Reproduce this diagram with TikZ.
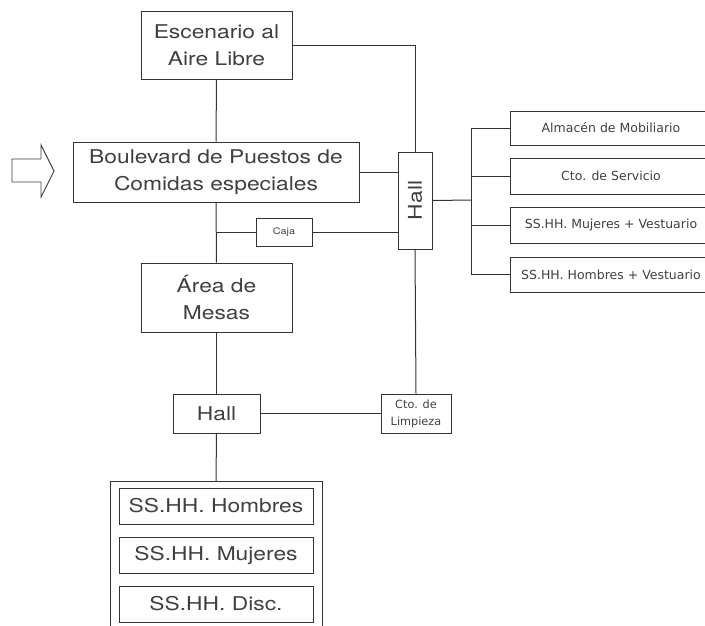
\documentclass[tikz,border=0pt]{standalone}
\usepackage{fontspec}
\setmainfont{TeX Gyre Heros}
\newfontfamily\bigf[FakeStretch=1.2]{TeX Gyre Heros}
\newfontfamily\smf{DejaVu Sans}
\tikzset{
  box/.style={draw=black!80, line width=1pt, rectangle, inner sep=0pt, align=center, text=black!75},
  bigtxt/.style={font=\bigf\fontsize{19}{27}\selectfont},
  smtxt/.style={font=\smf\fontsize{12.5}{17}\selectfont},
  link/.style={draw=black!80, line width=1pt},
}
\begin{document}
\begin{tikzpicture}[x=1pt,y=-1pt]
\clip (0,0) rectangle (705,625);
\fill[white] (0,0) rectangle (705,625);
% arrow
\draw[black!75, line width=0.9pt, line join=miter] (12,159) -- (41,159) -- (41,145) -- (54,171) -- (41,197) -- (41,182) -- (12,182) -- cycle;
% nodes
\node[box, bigtxt, minimum width=151pt, minimum height=68pt] (esc) at (216.5,45) {Escenario al\\Aire Libre};
\node[box, bigtxt, minimum width=286pt, minimum height=60pt] (blv) at (216,172) {Boulevard de Puestos de\\Comidas especiales};
\node[box, minimum width=34pt, minimum height=97pt] (hall1) at (415,200.5) {};
\node[bigtxt, text=black!75, rotate=90] (hall1t) at (hall1.center) {Hall};
\node[box, font=\bigf\fontsize{9}{11}\selectfont, minimum width=56pt, minimum height=28pt] (caja) at (284,232) {Caja};
\node[box, bigtxt, minimum width=151pt, minimum height=69pt] (area) at (216.5,297.5) {Área de\\Mesas};
\node[box, bigtxt, minimum width=87pt, minimum height=39pt] (hall2) at (216.5,413.5) {Hall};
\node[box, font=\smf\fontsize{11.3}{17}\selectfont, minimum width=70pt, minimum height=39pt] (limp) at (416,413.5) {Cto. de\\Limpieza};
\node[box, minimum width=212pt, minimum height=150pt, anchor=north] (outer) at (216,481) {};
\node[box, bigtxt, minimum width=194pt, minimum height=36pt] (s1) at (216,506) {SS.HH. Hombres};
\node[box, bigtxt, minimum width=194pt, minimum height=36pt] (s2) at (216,555) {SS.HH. Mujeres};
\node[box, bigtxt, minimum width=194pt, minimum height=36pt] (s3) at (216,604) {SS.HH. Disc.};
\node[box, smtxt, minimum width=202pt, minimum height=34pt] (r1) at (611,128) {Almacén de Mobiliario};
\node[box, smtxt, minimum width=202pt, minimum height=36pt] (r2) at (611,176) {Cto. de Servicio};
\node[box, smtxt, minimum width=202pt, minimum height=36pt] (r3) at (611,225) {SS.HH. Mujeres + Vestuario};
\node[box, smtxt, minimum width=202pt, minimum height=35pt] (r4) at (611,274.5) {SS.HH. Hombres + Vestuario};
\coordinate (bus) at (471,200);
% connectors
\draw[link] (esc.east) -| (hall1.north);
\draw[link] (esc.south) -- (blv.north);
\draw[link] (blv.east) -- (blv.east -| hall1.west);
\draw[link] (blv.south) -- (area.north);
\draw[link] (blv.south |- caja.west) -- (caja.west);
\draw[link] (caja.east) -- (caja.east -| hall1.west);
\draw[link] (area.south) -- (hall2.north);
\draw[link] (hall2.east) -- (limp.west);
\draw[link] (hall1.south) -- (limp.north);
\draw[link] (hall2.south) -- (outer.north);
\draw[link] (hall1.east) -- (bus);
\draw[link] (bus |- r1.west) -- (bus |- r4.west);
\foreach \r in {r1,r2,r3,r4} { \draw[link] (bus |- \r.west) -- (\r.west); }
\end{tikzpicture}
\end{document}
